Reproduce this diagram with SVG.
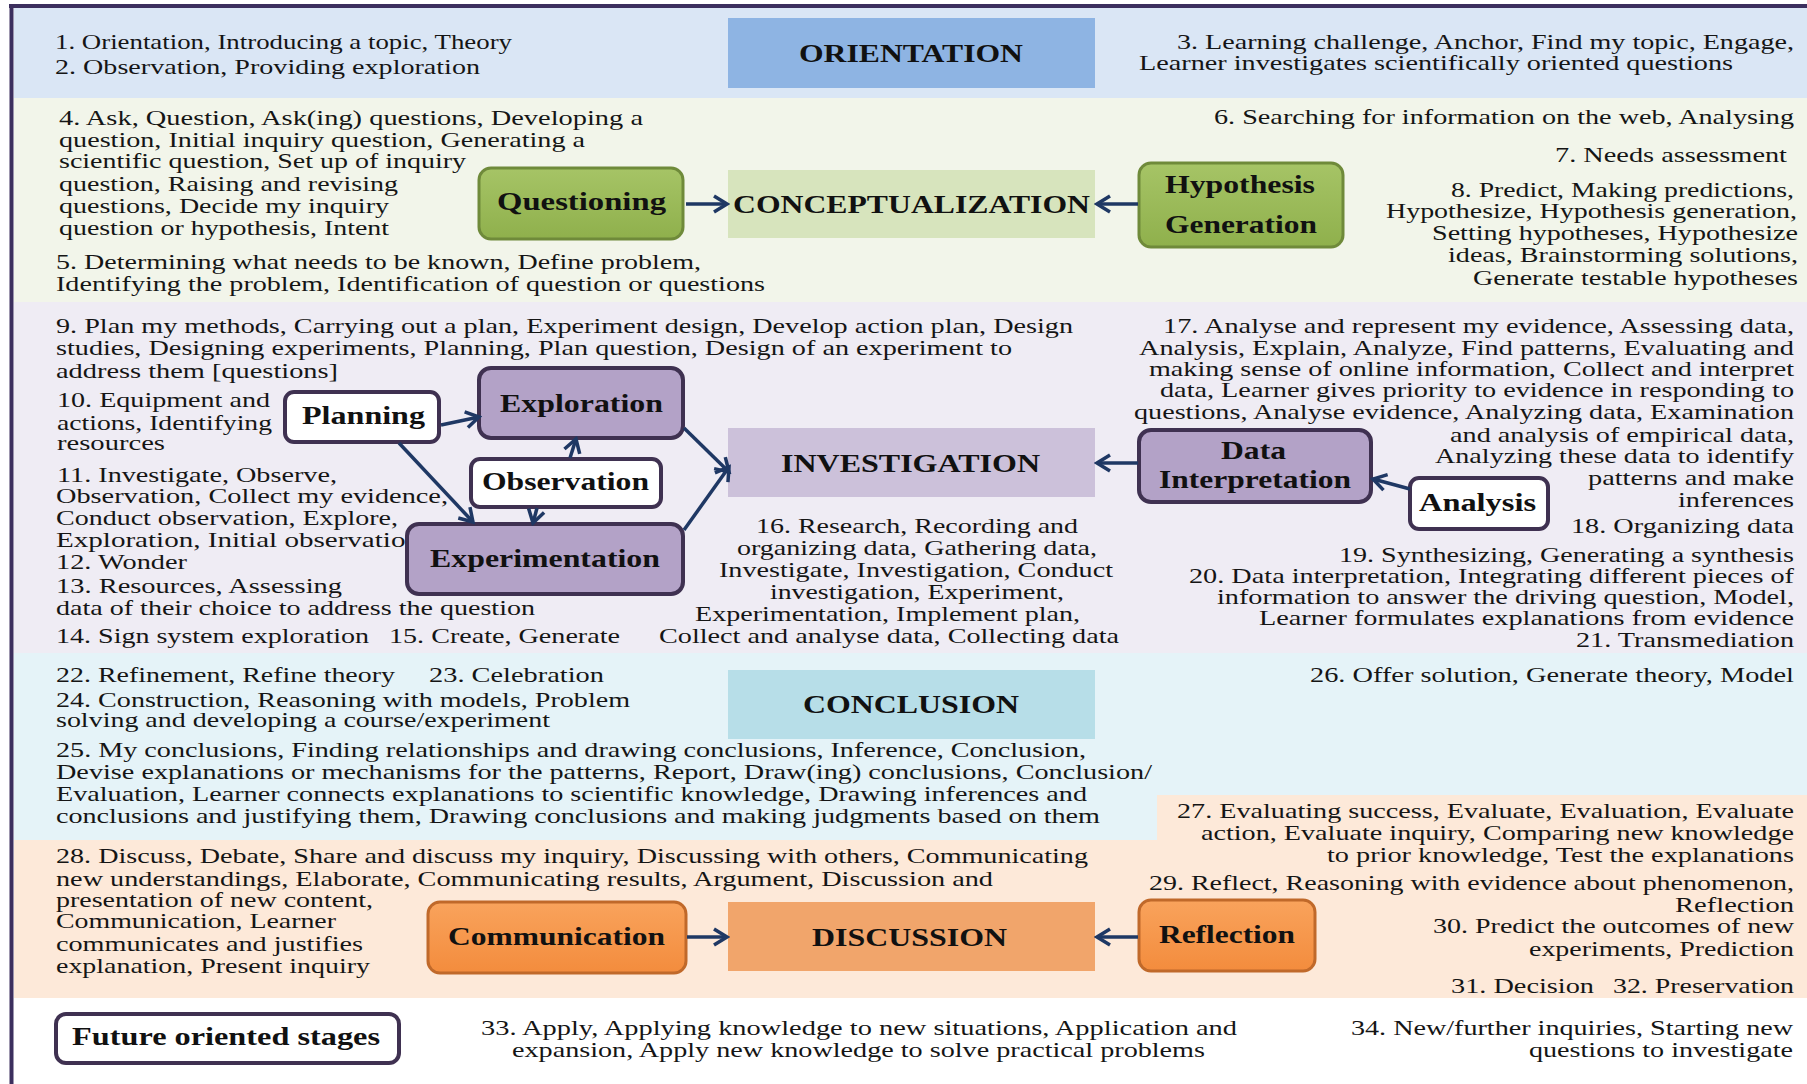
<svg xmlns="http://www.w3.org/2000/svg" width="1807" height="1084" viewBox="0 0 1807 1084">
<defs>
<style>
.t{font-family:"Liberation Serif","Times New Roman",serif;font-size:22px;fill:#151515}
.b{font-family:"Liberation Serif","Times New Roman",serif;font-size:25px;font-weight:bold;fill:#111}
.stage{stroke:none}
.green{fill:url(#gG);stroke:#6f8a3a;stroke-width:3}
.purple{fill:#b3a2c7;stroke:#3f3151;stroke-width:4}
.white{fill:#ffffff;stroke:#3f3151;stroke-width:4}
.orange{fill:url(#gO);stroke:#c0692a;stroke-width:3}
.arr{stroke:#1f3864;stroke-width:3.5;fill:none;marker-end:url(#ah)}
</style>
<linearGradient id="gG" x1="0" y1="0" x2="0" y2="1"><stop offset="0" stop-color="#a6c466"/><stop offset="1" stop-color="#8fb04c"/></linearGradient>
<linearGradient id="gO" x1="0" y1="0" x2="0" y2="1"><stop offset="0" stop-color="#f9a35c"/><stop offset="1" stop-color="#f38c3d"/></linearGradient>
<marker id="ah" viewBox="0 0 20 20" markerWidth="20" markerHeight="20" refX="17" refY="10" orient="auto" markerUnits="userSpaceOnUse">
<path d="M4,2 L17,10 L4,18" fill="none" stroke="#1f3864" stroke-width="3.5"/>
</marker>
</defs>
<rect x="0" y="0" width="1807" height="1084" fill="#ffffff"/>
<g id="bands">
<rect x="14" y="8" width="1793" height="90" fill="#dae6f5"/>
<rect x="14" y="98" width="1793" height="204" fill="#f2f5ea"/>
<rect x="14" y="302" width="1793" height="351" fill="#efecf4"/>
<rect x="14" y="653" width="1793" height="187" fill="#e5f3f8"/>
<path d="M14,840 H1157 V795 H1807 V998 H14 Z" fill="#fde9d9"/>
</g>
<g id="frame">
<line x1="9" y1="6" x2="1807" y2="6" stroke="#3c2f5e" stroke-width="4"/>
<line x1="11.5" y1="4" x2="11.5" y2="1084" stroke="#3c2f5e" stroke-width="4"/>
</g>
<g id="texts">
<text class="t" x="55" y="49" textLength="457" lengthAdjust="spacingAndGlyphs">1. Orientation, Introducing a topic, Theory</text>
<text class="t" x="55" y="74" textLength="425" lengthAdjust="spacingAndGlyphs">2. Observation, Providing exploration</text>
<text class="t" x="1177" y="49" textLength="617" lengthAdjust="spacingAndGlyphs">3. Learning challenge, Anchor, Find my topic, Engage,</text>
<text class="t" x="1139" y="70" textLength="594" lengthAdjust="spacingAndGlyphs">Learner investigates scientifically oriented questions</text>

<text class="t" x="59" y="125" textLength="584" lengthAdjust="spacingAndGlyphs">4. Ask, Question, Ask(ing) questions, Developing a</text>
<text class="t" x="59" y="147" textLength="526" lengthAdjust="spacingAndGlyphs">question, Initial inquiry question, Generating a</text>
<text class="t" x="59" y="168" textLength="407" lengthAdjust="spacingAndGlyphs">scientific question, Set up of inquiry</text>
<text class="t" x="59" y="191" textLength="339" lengthAdjust="spacingAndGlyphs">question, Raising and revising</text>
<text class="t" x="59" y="213" textLength="330" lengthAdjust="spacingAndGlyphs">questions, Decide my inquiry</text>
<text class="t" x="59" y="235" textLength="330" lengthAdjust="spacingAndGlyphs">question or hypothesis, Intent</text>
<text class="t" x="56" y="269" textLength="645" lengthAdjust="spacingAndGlyphs">5. Determining what needs to be known, Define problem,</text>
<text class="t" x="56" y="291" textLength="709" lengthAdjust="spacingAndGlyphs">Identifying the problem, Identification of question or questions</text>

<text class="t" x="1214" y="124" textLength="580" lengthAdjust="spacingAndGlyphs">6. Searching for information on the web, Analysing</text>
<text class="t" x="1555" y="162" textLength="232" lengthAdjust="spacingAndGlyphs">7. Needs assessment</text>
<text class="t" x="1451" y="197" textLength="343" lengthAdjust="spacingAndGlyphs">8. Predict, Making predictions,</text>
<text class="t" x="1386" y="218" textLength="411" lengthAdjust="spacingAndGlyphs">Hypothesize, Hypothesis generation,</text>
<text class="t" x="1432" y="240" textLength="366" lengthAdjust="spacingAndGlyphs">Setting hypotheses, Hypothesize</text>
<text class="t" x="1448" y="262" textLength="350" lengthAdjust="spacingAndGlyphs">ideas, Brainstorming solutions,</text>
<text class="t" x="1473" y="285" textLength="325" lengthAdjust="spacingAndGlyphs">Generate testable hypotheses</text>

<text class="t" x="56" y="333" textLength="1017" lengthAdjust="spacingAndGlyphs">9. Plan my methods, Carrying out a plan, Experiment design, Develop action plan, Design</text>
<text class="t" x="56" y="355" textLength="956" lengthAdjust="spacingAndGlyphs">studies, Designing experiments, Planning, Plan question, Design of an experiment to</text>
<text class="t" x="56" y="378" textLength="282" lengthAdjust="spacingAndGlyphs">address them [questions]</text>
<text class="t" x="57" y="407" textLength="213" lengthAdjust="spacingAndGlyphs">10. Equipment and</text>
<text class="t" x="57" y="430" textLength="215" lengthAdjust="spacingAndGlyphs">actions, Identifying</text>
<text class="t" x="57" y="450" textLength="108" lengthAdjust="spacingAndGlyphs">resources</text>
<text class="t" x="57" y="482" textLength="280" lengthAdjust="spacingAndGlyphs">11. Investigate, Observe,</text>
<text class="t" x="56" y="503" textLength="392" lengthAdjust="spacingAndGlyphs">Observation, Collect my evidence,</text>
<text class="t" x="56" y="525" textLength="342" lengthAdjust="spacingAndGlyphs">Conduct observation, Explore,</text>
<text class="t" x="56" y="547" textLength="364" lengthAdjust="spacingAndGlyphs">Exploration, Initial observation</text>
<text class="t" x="56" y="569" textLength="131" lengthAdjust="spacingAndGlyphs">12. Wonder</text>
<text class="t" x="56" y="593" textLength="286" lengthAdjust="spacingAndGlyphs">13. Resources, Assessing</text>
<text class="t" x="56" y="615" textLength="479" lengthAdjust="spacingAndGlyphs">data of their choice to address the question</text>
<text class="t" x="56" y="643" textLength="313" lengthAdjust="spacingAndGlyphs">14. Sign system exploration</text>
<text class="t" x="389" y="643" textLength="231" lengthAdjust="spacingAndGlyphs">15. Create, Generate</text>

<text class="t" x="756" y="533" textLength="322" lengthAdjust="spacingAndGlyphs">16. Research, Recording and</text>
<text class="t" x="737" y="555" textLength="360" lengthAdjust="spacingAndGlyphs">organizing data, Gathering data,</text>
<text class="t" x="719" y="577" textLength="394" lengthAdjust="spacingAndGlyphs">Investigate, Investigation, Conduct</text>
<text class="t" x="770" y="599" textLength="294" lengthAdjust="spacingAndGlyphs">investigation, Experiment,</text>
<text class="t" x="695" y="621" textLength="385" lengthAdjust="spacingAndGlyphs">Experimentation, Implement plan,</text>
<text class="t" x="659" y="643" textLength="460" lengthAdjust="spacingAndGlyphs">Collect and analyse data, Collecting data</text>

<text class="t" x="1163" y="333" textLength="631" lengthAdjust="spacingAndGlyphs">17. Analyse and represent my evidence, Assessing data,</text>
<text class="t" x="1139" y="355" textLength="655" lengthAdjust="spacingAndGlyphs">Analysis, Explain, Analyze, Find patterns, Evaluating and</text>
<text class="t" x="1149" y="376" textLength="645" lengthAdjust="spacingAndGlyphs">making sense of online information, Collect and interpret</text>
<text class="t" x="1160" y="397" textLength="634" lengthAdjust="spacingAndGlyphs">data, Learner gives priority to evidence in responding to</text>
<text class="t" x="1134" y="419" textLength="660" lengthAdjust="spacingAndGlyphs">questions, Analyse evidence, Analyzing data, Examination</text>
<text class="t" x="1450" y="442" textLength="344" lengthAdjust="spacingAndGlyphs">and analysis of empirical data,</text>
<text class="t" x="1435" y="463" textLength="359" lengthAdjust="spacingAndGlyphs">Analyzing these data to identify</text>
<text class="t" x="1588" y="485" textLength="206" lengthAdjust="spacingAndGlyphs">patterns and make</text>
<text class="t" x="1678" y="507" textLength="116" lengthAdjust="spacingAndGlyphs">inferences</text>
<text class="t" x="1571" y="533" textLength="223" lengthAdjust="spacingAndGlyphs">18. Organizing data</text>
<text class="t" x="1339" y="562" textLength="455" lengthAdjust="spacingAndGlyphs">19. Synthesizing, Generating a synthesis</text>
<text class="t" x="1189" y="583" textLength="605" lengthAdjust="spacingAndGlyphs">20. Data interpretation, Integrating different pieces of</text>
<text class="t" x="1217" y="604" textLength="577" lengthAdjust="spacingAndGlyphs">information to answer the driving question, Model,</text>
<text class="t" x="1259" y="625" textLength="535" lengthAdjust="spacingAndGlyphs">Learner formulates explanations from evidence</text>
<text class="t" x="1576" y="647" textLength="218" lengthAdjust="spacingAndGlyphs">21. Transmediation</text>

<text class="t" x="56" y="682" textLength="339" lengthAdjust="spacingAndGlyphs">22. Refinement, Refine theory</text>
<text class="t" x="429" y="682" textLength="175" lengthAdjust="spacingAndGlyphs">23. Celebration</text>
<text class="t" x="56" y="707" textLength="574" lengthAdjust="spacingAndGlyphs">24. Construction, Reasoning with models, Problem</text>
<text class="t" x="56" y="727" textLength="494" lengthAdjust="spacingAndGlyphs">solving and developing a course/experiment</text>
<text class="t" x="56" y="757" textLength="1030" lengthAdjust="spacingAndGlyphs">25. My conclusions, Finding relationships and drawing conclusions, Inference, Conclusion,</text>
<text class="t" x="56" y="779" textLength="1096" lengthAdjust="spacingAndGlyphs">Devise explanations or mechanisms for the patterns, Report, Draw(ing) conclusions, Conclusion/</text>
<text class="t" x="56" y="801" textLength="1031" lengthAdjust="spacingAndGlyphs">Evaluation, Learner connects explanations to scientific knowledge, Drawing inferences and</text>
<text class="t" x="56" y="823" textLength="1044" lengthAdjust="spacingAndGlyphs">conclusions and justifying them, Drawing conclusions and making judgments based on them</text>
<text class="t" x="1310" y="682" textLength="484" lengthAdjust="spacingAndGlyphs">26. Offer solution, Generate theory, Model</text>

<text class="t" x="1177" y="818" textLength="617" lengthAdjust="spacingAndGlyphs">27. Evaluating success, Evaluate, Evaluation, Evaluate</text>
<text class="t" x="1201" y="840" textLength="593" lengthAdjust="spacingAndGlyphs">action, Evaluate inquiry, Comparing new knowledge</text>
<text class="t" x="1327" y="862" textLength="467" lengthAdjust="spacingAndGlyphs">to prior knowledge, Test the explanations</text>
<text class="t" x="1149" y="890" textLength="645" lengthAdjust="spacingAndGlyphs">29. Reflect, Reasoning with evidence about phenomenon,</text>
<text class="t" x="1675" y="912" textLength="119" lengthAdjust="spacingAndGlyphs">Reflection</text>
<text class="t" x="1433" y="933" textLength="361" lengthAdjust="spacingAndGlyphs">30. Predict the outcomes of new</text>
<text class="t" x="1529" y="956" textLength="265" lengthAdjust="spacingAndGlyphs">experiments, Prediction</text>
<text class="t" x="1451" y="993" textLength="143" lengthAdjust="spacingAndGlyphs">31. Decision</text>
<text class="t" x="1613" y="993" textLength="181" lengthAdjust="spacingAndGlyphs">32. Preservation</text>

<text class="t" x="56" y="863" textLength="1032" lengthAdjust="spacingAndGlyphs">28. Discuss, Debate, Share and discuss my inquiry, Discussing with others, Communicating</text>
<text class="t" x="56" y="886" textLength="937" lengthAdjust="spacingAndGlyphs">new understandings, Elaborate, Communicating results, Argument, Discussion and</text>
<text class="t" x="56" y="907" textLength="317" lengthAdjust="spacingAndGlyphs">presentation of new content,</text>
<text class="t" x="56" y="928" textLength="280" lengthAdjust="spacingAndGlyphs">Communication, Learner</text>
<text class="t" x="56" y="951" textLength="307" lengthAdjust="spacingAndGlyphs">communicates and justifies</text>
<text class="t" x="56" y="973" textLength="314" lengthAdjust="spacingAndGlyphs">explanation, Present inquiry</text>

<text class="t" x="481" y="1035" textLength="756" lengthAdjust="spacingAndGlyphs">33. Apply, Applying knowledge to new situations, Application and</text>
<text class="t" x="512" y="1057" textLength="693" lengthAdjust="spacingAndGlyphs">expansion, Apply new knowledge to solve practical problems</text>
<text class="t" x="1351" y="1035" textLength="442" lengthAdjust="spacingAndGlyphs">34. New/further inquiries, Starting new</text>
<text class="t" x="1529" y="1057" textLength="264" lengthAdjust="spacingAndGlyphs">questions to investigate</text>
</g>

<g id="stage-orientation"><rect class="stage" x="728" y="18" width="367" height="70" fill="#8eb4e3"/><text class="b" x="799" y="62" textLength="224" lengthAdjust="spacingAndGlyphs">ORIENTATION</text></g>
<g id="stage-conceptualization"><rect class="stage" x="728" y="170" width="367" height="68" fill="#d7e4bd"/><text class="b" x="733" y="213" textLength="357" lengthAdjust="spacingAndGlyphs">CONCEPTUALIZATION</text></g>
<g id="stage-investigation"><rect class="stage" x="728" y="428" width="367" height="69" fill="#ccc1da"/><text class="b" x="781" y="472" textLength="259" lengthAdjust="spacingAndGlyphs">INVESTIGATION</text></g>
<g id="stage-conclusion"><rect class="stage" x="728" y="670" width="367" height="69" fill="#b7dee8"/><text class="b" x="803" y="713" textLength="216" lengthAdjust="spacingAndGlyphs">CONCLUSION</text></g>
<g id="stage-discussion"><rect class="stage" x="728" y="902" width="367" height="69" fill="#f1a56b"/><text class="b" x="812" y="946" textLength="195" lengthAdjust="spacingAndGlyphs">DISCUSSION</text></g>

<g id="node-questioning"><rect class="green" x="479" y="168" width="204" height="71" rx="12"/><text class="b" x="497" y="210" textLength="169" lengthAdjust="spacingAndGlyphs">Questioning</text></g>
<g id="node-hypothesis"><rect class="green" x="1139" y="163" width="204" height="84" rx="12"/><text class="b" x="1165" y="193" textLength="150" lengthAdjust="spacingAndGlyphs">Hypothesis</text><text class="b" x="1165" y="233" textLength="152" lengthAdjust="spacingAndGlyphs">Generation</text></g>
<g id="node-planning"><rect class="white" x="285" y="392" width="154" height="50" rx="9"/><text class="b" x="302" y="424" textLength="123" lengthAdjust="spacingAndGlyphs">Planning</text></g>
<g id="node-exploration"><rect class="purple" x="479" y="368" width="204" height="70" rx="12"/><text class="b" x="500" y="412" textLength="163" lengthAdjust="spacingAndGlyphs">Exploration</text></g>
<g id="node-observation"><rect class="white" x="471" y="459" width="190" height="48" rx="9"/><text class="b" x="482" y="490" textLength="167" lengthAdjust="spacingAndGlyphs">Observation</text></g>
<g id="node-experimentation"><rect class="purple" x="407" y="524" width="276" height="70" rx="12"/><text class="b" x="430" y="567" textLength="230" lengthAdjust="spacingAndGlyphs">Experimentation</text></g>
<g id="node-datainterpretation"><rect class="purple" x="1139" y="430" width="232" height="72" rx="12"/><text class="b" x="1221" y="459" textLength="65" lengthAdjust="spacingAndGlyphs">Data</text><text class="b" x="1159" y="488" textLength="192" lengthAdjust="spacingAndGlyphs">Interpretation</text></g>
<g id="node-analysis"><rect class="white" x="1410" y="478" width="138" height="51" rx="9"/><text class="b" x="1419" y="511" textLength="117" lengthAdjust="spacingAndGlyphs">Analysis</text></g>
<g id="node-communication"><rect class="orange" x="428" y="902" width="258" height="71" rx="12"/><text class="b" x="448" y="945" textLength="217" lengthAdjust="spacingAndGlyphs">Communication</text></g>
<g id="node-reflection"><rect class="orange" x="1139" y="900" width="176" height="71" rx="12"/><text class="b" x="1159" y="943" textLength="136" lengthAdjust="spacingAndGlyphs">Reflection</text></g>
<g id="node-future"><rect class="white" x="56" y="1014" width="343" height="49" rx="10"/><text class="b" x="72" y="1045" textLength="308" lengthAdjust="spacingAndGlyphs">Future oriented stages</text></g>

<g id="connectors">
<line class="arr" x1="686" y1="204" x2="727" y2="204"/>
<line class="arr" x1="1138" y1="204" x2="1097" y2="204"/>
<line class="arr" x1="441" y1="425" x2="479" y2="417"/>
<line class="arr" x1="399" y1="443" x2="473" y2="522"/>
<line class="arr" x1="570" y1="458" x2="576" y2="439"/>
<line class="arr" x1="537" y1="508" x2="533" y2="523"/>
<line class="arr" x1="684" y1="428" x2="729" y2="472"/>
<line class="arr" x1="684" y1="530" x2="729" y2="467"/>
<line class="arr" x1="1138" y1="463" x2="1097" y2="463"/>
<line class="arr" x1="1410" y1="489" x2="1373" y2="479"/>
<line class="arr" x1="687" y1="937" x2="727" y2="937"/>
<line class="arr" x1="1138" y1="937" x2="1097" y2="937"/>
</g>
</svg>
